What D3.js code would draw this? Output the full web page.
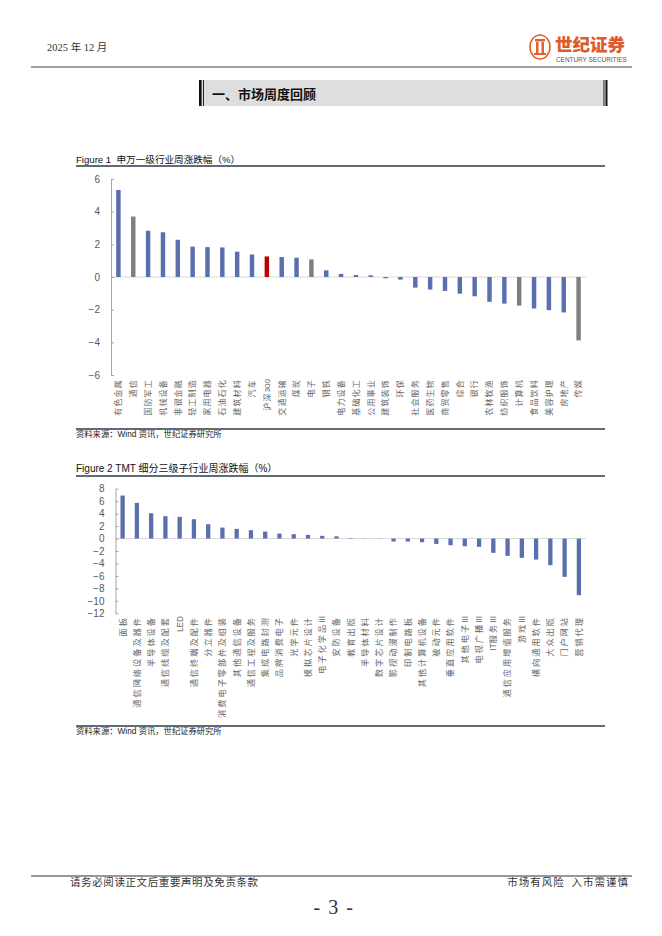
<!DOCTYPE html>
<html><head><meta charset="utf-8">
<script src="https://cdn.jsdelivr.net/npm/d3@7"></script>
<style>
html,body{margin:0;padding:0;background:#fff;}
svg{display:block;}
</style></head>
<body>
<svg id="page" width="662" height="936"></svg>
<script>
// ---------- DATA ----------
const fig1Categories = ["有色金属","通信","国防军工","机械设备","非银金融","轻工制造","家用电器","石油石化","建筑材料","汽车","沪深300","交通运输","煤炭","电子","钢铁","电力设备","基础化工","公用事业","建筑装饰","环保","社会服务","医药生物","商贸零售","综合","银行","农林牧渔","纺织服饰","计算机","食品饮料","美容护理","房地产","传媒"];
const fig1Values = [5.33,3.70,2.83,2.74,2.28,1.86,1.83,1.81,1.55,1.38,1.26,1.22,1.18,1.08,0.41,0.19,0.12,0.10,-0.08,-0.16,-0.65,-0.77,-0.85,-1.02,-1.18,-1.52,-1.63,-1.75,-1.93,-2.03,-2.17,-3.88];
const fig1TMT = ["通信","电子","计算机","传媒"];
const fig1Benchmark = ["沪深300"];
const fig1Ticks = [-6,-4,-2,0,2,4,6];

const fig2Categories = ["面板","通信网络设备及器件","半导体设备","通信线缆及配套","LED","通信终端及配件","分立器件","消费电子零部件及组装","其他通信设备","通信工程及服务","集成电路封测","品牌消费电子","光学元件","模拟芯片设计","电子化学品III","安防设备","教育出版","半导体材料","数字芯片设计","影视动漫制作","印制电路板","其他计算机设备","被动元件","垂直应用软件","其他电子III","电视广播III","IT服务III","通信应用增值服务","游戏III","横向通用软件","大众出版","门户网站","营销代理"];
const fig2Values = [6.90,5.72,4.06,3.58,3.48,3.10,2.30,1.76,1.55,1.34,1.12,0.80,0.70,0.59,0.43,0.35,0.08,0.03,-0.03,-0.48,-0.48,-0.59,-0.86,-1.07,-1.23,-1.34,-2.30,-2.78,-3.10,-3.37,-4.28,-6.15,-9.09];
const fig2Ticks = [-12,-10,-8,-6,-4,-2,0,2,4,6,8];

const headerDate = "2025 年 12 月";
const sectionTitle = "一、市场周度回顾";
const fig1Title = "Figure 1  申万一级行业周涨跌幅（%）";
const fig2Title = "Figure 2 TMT 细分三级子行业周涨跌幅（%）";
const sourceText = "资料来源：Wind 资讯，世纪证券研究所";
const footerLeft = "请务必阅读正文后重要声明及免责条款";
const footerRight = "市场有风险  入市需谨慎";
const pageNo = "- 3 -";

// ---------- STYLE ----------
const BLUE = "#5b6fb0", GRAY = "#7f7f7f", RED = "#c00000";
const CJK = "'Noto Sans CJK SC', sans-serif";
const SANS = "'Liberation Sans', Arial, 'Noto Sans CJK SC', sans-serif";
const SERIF = "'Liberation Serif', 'Noto Sans CJK SC', serif";

const svg = d3.select("#page");
svg.append("rect").attr("width",662).attr("height",936).attr("fill","#fff");

// ---------- HEADER ----------
svg.append("text").attr("x",47).attr("y",51).attr("font-family",SERIF).attr("font-size",10.5)
  .attr("fill","#333").text(headerDate);
const logo = svg.append("g");
logo.append("ellipse").attr("cx",540).attr("cy",47).attr("rx",10).attr("ry",12)
  .attr("fill","none").attr("stroke","#e0602e").attr("stroke-width",1.6);
logo.append("rect").attr("x",535).attr("y",39).attr("width",10).attr("height",2.5).attr("fill","#e0602e");
logo.append("rect").attr("x",536).attr("y",42).attr("width",2.5).attr("height",12).attr("fill","#e0602e");
logo.append("rect").attr("x",541.5).attr("y",42).attr("width",2.5).attr("height",12).attr("fill","#e0602e");
logo.append("rect").attr("x",534).attr("y",53).attr("width",12).attr("height",2).attr("fill","#e0602e");
logo.append("text").attr("x",555).attr("y",51).attr("font-family",CJK).attr("font-weight",900)
  .attr("font-size",17.5).attr("fill","#e0592a").text("世纪证券");
logo.append("text").attr("x",556).attr("y",62).attr("font-family",SANS).attr("font-size",6.4)
  .attr("fill","#555").text("CENTURY SECURITIES");
svg.append("line").attr("x1",31).attr("x2",632).attr("y1",67).attr("y2",67)
  .attr("stroke","#444").attr("stroke-width",1.2);

// section box
svg.append("rect").attr("x",199).attr("y",80).attr("width",408).attr("height",26).attr("fill","#dedede");
svg.append("rect").attr("x",199).attr("y",80).attr("width",2.6).attr("height",26).attr("fill","#111");
svg.append("rect").attr("x",203).attr("y",80).attr("width",0.9).attr("height",26).attr("fill","#111");
svg.append("rect").attr("x",603.5).attr("y",80).attr("width",0.9).attr("height",26).attr("fill","#111");
svg.append("rect").attr("x",605.5).attr("y",80).attr("width",2).attr("height",26).attr("fill","#111");
svg.append("text").attr("x",212).attr("y",99).attr("font-family",CJK).attr("font-weight",700)
  .attr("font-size",13).attr("fill","#111").text(sectionTitle);

// split label into CJK / Latin runs
const runRe = /[\u3000-\u303f\u4e00-\u9fff\uff00-\uffef]+|[^\u3000-\u303f\u4e00-\u9fff\uff00-\uffef]+/g;
const isCJK = s => /[\u3000-\u303f\u4e00-\u9fff\uff00-\uffef]/.test(s);

// ---------- CHART ----------
function drawChart(opt){
  const g = svg.append("g");
  g.append("text").attr("x",76).attr("y",opt.titleY).attr("font-family",SANS).attr("font-size",opt.titleSize)
    .attr("fill","#111").attr("xml:space","preserve").text(opt.title);
  g.append("line").attr("x1",76).attr("x2",605).attr("y1",opt.titleLineY).attr("y2",opt.titleLineY)
    .attr("stroke","#2b3a4a").attr("stroke-width",1.3);
  g.append("line").attr("x1",76).attr("x2",605).attr("y1",opt.srcLineY).attr("y2",opt.srcLineY)
    .attr("stroke","#2b3a4a").attr("stroke-width",1.3);
  g.append("text").attr("x",76).attr("y",opt.srcY).attr("font-family",SANS).attr("font-size",8.3)
    .attr("fill","#222").text(sourceText);

  const x = d3.scaleBand().domain(opt.cats).range(opt.xRange).paddingInner(0.7).paddingOuter(0.35);
  const y = d3.scaleLinear().domain(opt.yDomain).range(opt.yRange);

  g.append("line").attr("x1",opt.xRange[0]).attr("x2",opt.xRange[1]).attr("y1",y(0)).attr("y2",y(0))
    .attr("stroke","#d9d9d9").attr("stroke-width",1);

  g.selectAll("rect.bar").data(opt.cats).join("rect").attr("class","bar")
    .attr("x",d=>x(d)).attr("width",x.bandwidth())
    .attr("y",(d,i)=>y(Math.max(0,opt.vals[i])))
    .attr("height",(d,i)=>Math.abs(y(opt.vals[i])-y(0)))
    .attr("fill",d=>opt.color(d));

  const ax = g.append("g").attr("transform",`translate(${opt.xRange[0]},0)`)
    .call(d3.axisLeft(y).tickValues(opt.ticks).tickSizeInner(-3).tickSizeOuter(0).tickPadding(11).tickFormat(d3.format("d")));
  ax.select(".domain").attr("stroke","#a6a6a6");
  ax.selectAll(".tick line").attr("stroke","#a6a6a6");
  ax.selectAll(".tick text").attr("font-family",SANS).attr("font-size",10).attr("fill","#595959");

  const labels = g.selectAll("text.xl").data(opt.cats).join("text").attr("class","xl")
    .attr("transform",d=>`translate(${x(d)+x.bandwidth()/2},${opt.labelTop}) rotate(-90)`)
    .attr("text-anchor","end").attr("dy","0.35em")
    .attr("font-size",opt.labelSize).attr("fill","#666");
  labels.each(function(d){
    const t = d3.select(this);
    const runs = d.match(runRe);
    runs.forEach((r,k)=>{
      const cjk = isCJK(r);
      t.append("tspan").attr("font-family",cjk?CJK:SANS)
        .attr("letter-spacing",cjk?opt.labelSpacing:0)
        .text(r);
    });
  });
}

drawChart({
  title:fig1Title, titleSize:9.6, titleY:163, titleLineY:166, srcLineY:429, srcY:437,
  cats:fig1Categories, vals:fig1Values, ticks:fig1Ticks,
  xRange:[111,586], yDomain:[-6,6], yRange:[375,179],
  labelTop:379, labelSize:8, labelSpacing:1.2,
  color:d=> fig1Benchmark.includes(d)?RED:(fig1TMT.includes(d)?GRAY:BLUE)
});
drawChart({
  title:fig2Title, titleSize:10, titleY:472, titleLineY:476, srcLineY:726, srcY:734,
  cats:fig2Categories, vals:fig2Values, ticks:fig2Ticks,
  xRange:[115.5,586], yDomain:[-12,8], yRange:[613.3,488.7],
  labelTop:616, labelSize:8.2, labelSpacing:2,
  color:d=>BLUE
});

// ---------- FOOTER ----------
svg.append("line").attr("x1",31).attr("x2",632).attr("y1",876).attr("y2",876)
  .attr("stroke","#333").attr("stroke-width",1.2);
svg.append("text").attr("x",70).attr("y",886).attr("font-family",CJK).attr("font-size",10.5)
  .attr("letter-spacing",0.6).attr("fill","#333").text(footerLeft);
svg.append("text").attr("x",629).attr("y",886).attr("text-anchor","end").attr("xml:space","preserve")
  .attr("font-family",CJK).attr("font-size",10.5).attr("letter-spacing",1).attr("fill","#333").text(footerRight);
svg.append("text").attr("x",334).attr("y",914).attr("text-anchor","middle").attr("font-family",SERIF)
  .attr("font-size",20).attr("letter-spacing",1.5).attr("fill","#333").attr("xml:space","preserve").text(pageNo);
</script>
</body></html>
